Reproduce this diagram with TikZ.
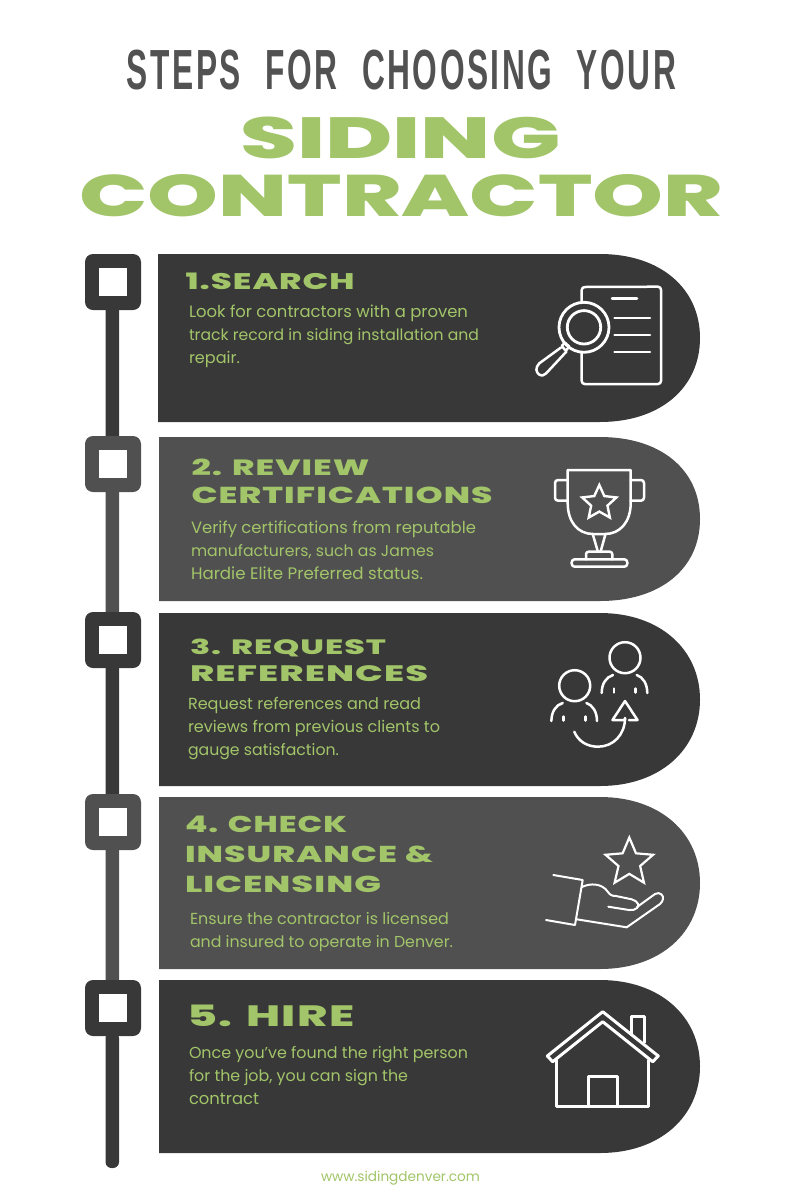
\documentclass[tikz,border=0pt]{standalone}
\usepackage{graphicx}
\usepackage{fontspec}
\usetikzlibrary{shapes.geometric}
\setmainfont{Poppins}
\newfontfamily\titlef[LetterSpace=8]{Liberation Sans Bold}
\newfontfamily\widef{Poppins ExtraBold}
\newfontfamily\headf[LetterSpace=3]{Poppins ExtraBold}
\newfontfamily\bodyf{Poppins}
\definecolor{darkp}{HTML}{383838}
\definecolor{lightp}{HTML}{505050}
\definecolor{leaf}{HTML}{A2C569}
\definecolor{titlegray}{HTML}{525252}
\newcommand{\fitwh}[3]{\resizebox{#1pt}{#2pt}{#3}}
\newcommand{\fitw}[2]{\resizebox{#1pt}{!}{#2}}
\newcommand{\wgap}{\hspace{.42em}}
\tikzset{
  x=1pt,y=-1pt,
  txt/.style={inner sep=0,outer sep=0,text=leaf},
  headtxt/.style={txt,align=left,anchor=base west,font=\headf\fontsize{16}{28}\selectfont},
  bodytxt/.style={txt,align=left,anchor=base west,font=\bodyf\fontsize{16}{22.9}\selectfont},
  icon/.style={draw=white,line width=2.5pt,line join=round,line cap=round},
}
\newcommand{\panelshape}[4]{%
  \fill[#4] (#1,#2) -- (600,#2)
     .. controls (660,#2) and (700,{(#2+#3)/2-50}) .. (700,{(#2+#3)/2})
     .. controls (700,{(#2+#3)/2+50}) and (660,#3) .. (600,#3) -- (#1,#3) -- cycle;}
\newcommand{\marker}[2]{%
  \fill[#2,rounded corners=8pt] (85,#1) rectangle (141,{#1+56});
  \fill[white] (98.5,{#1+14}) rectangle (127,{#1+42});}
\begin{document}
\begin{tikzpicture}
\useasboundingbox (0,0) rectangle (800,1200);
\fill[white] (0,0) rectangle (800,1200);
% Title
\node[inner sep=0,anchor=south west,text=titlegray] (title1) at (126.7,90.5) {\fitwh{549}{39.5}{\titlef STEPS\wgap{} FOR\wgap{} CHOOSING\wgap{} YOUR}};
\node[inner sep=0,anchor=south west,text=leaf] (title2) at (240,159.5) {\fitwh{320}{41.5}{\widef SIDING}};
\node[inner sep=0,anchor=south west,text=leaf] (title3) at (79.5,217) {\fitwh{643}{42}{\widef CONTRACTOR}};
% Panels
\panelshape{158}{254}{422}{darkp}
\panelshape{159}{437}{601}{lightp}
\panelshape{159}{613}{786}{darkp}
\panelshape{159}{797}{969}{lightp}
\panelshape{159}{980}{1153}{darkp}
% Timeline
\fill[darkp,rounded corners=3pt] (105.5,306) rectangle (119,440);
\fill[lightp,rounded corners=3pt] (105.5,488) rectangle (119,616);
\fill[darkp,rounded corners=3pt] (105.5,664) rectangle (119,798);
\fill[lightp,rounded corners=3pt] (105.5,846) rectangle (119,984);
\fill[darkp,rounded corners=6pt] (105.5,1032) rectangle (119,1168);
\marker{254}{darkp}
\marker{436}{lightp}
\marker{612}{darkp}
\marker{794}{lightp}
\marker{980}{darkp}
% Headings
\node[headtxt] (h1) at (185.5,289.5) {\fitwh{169}{16.5}{1.SEARCH}};
\node[headtxt] (h2) at (191.5,503) {\fitwh{178}{16.5}{2. REVIEW}\\\fitwh{301}{16.5}{CERTIFICATIONS}};
\node[headtxt,font=\headf\fontsize{16}{27}\selectfont] (h3) at (190,681) {\fitwh{196}{15.5}{3. REQUEST}\\\fitwh{238}{16}{REFERENCES}};
\node[headtxt,font=\headf\fontsize{16}{30}\selectfont] (h4) at (185,892) {\fitwh{162}{16.5}{4. CHECK}\\\fitwh{248}{16.5}{INSURANCE \&}\\\fitwh{196}{16.5}{LICENSING}};
\node[headtxt] (h5) at (187.5,1026) {\fitwh{167}{21.5}{5. HIRE}};
% Body
\node[bodytxt] (b1) at (189,363) {\fitw{279}{Look for contractors with a proven}\\\fitw{290}{track record in siding installation and}\\\fitw{51}{repair.}};
\node[bodytxt] (b2) at (191,579) {\fitw{285}{Verify certifications from reputable}\\\fitw{243}{manufacturers, such as James}\\\fitw{232}{Hardie Elite Preferred status.}};
\node[bodytxt] (b3) at (188,755) {\fitw{233}{Request references and read}\\\fitw{252}{reviews from previous clients to}\\\fitw{151}{gauge satisfaction.}};
\node[bodytxt] (b4) at (190,947) {\fitw{259}{Ensure the contractor is licensed}\\\fitw{263}{and insured to operate in Denver.}};
\node[bodytxt] (b5) at (189,1104) {\fitw{279}{Once you’ve found the right person}\\\fitw{219}{for the job, you can sign the}\\\fitw{70}{contract}};
\node[txt,anchor=base west] (foot) at (321,1181) {\fitw{159}{\bodyf www.sidingdenver.com}};
% Icon 1: magnifier on document
\draw[icon] (581.7,303) -- (581.7,290) arc[start angle=180,end angle=270,radius=3] -- (658,286.7) arc[start angle=-90,end angle=0,radius=3] -- (661,381) arc[start angle=0,end angle=90,radius=3] -- (584.7,384) arc[start angle=90,end angle=180,radius=3] -- (581.7,353);
\draw[icon] (612,298.5) -- (637,298.5) (614.5,318) -- (650,318) (614.5,335) -- (650,335) (614.5,352) -- (650,352);
\draw[icon,line width=2.8pt] (584,327.3) circle[radius=25];
\draw[icon,line width=2.8pt] (584,327.3) circle[radius=16.7];
\draw[icon] (561,347.5) -- (539.3,363.3) .. controls (535,368) and (536,372) .. (539,374.5) .. controls (542,376) and (544,375.5) .. (546,373.5) -- (566.5,351.5);
\draw[icon] (561.7,346) -- (565.7,350.7) (565,342.7) -- (569.3,346.7) (561.7,346) -- (565,342.7) (565.7,350.7) -- (569.3,346.7);
% Icon 2: trophy
\draw[icon] (567.7,470) -- (630.7,470) -- (630.7,503) .. controls (630.7,522) and (620,534) .. (605,534) -- (593,534) .. controls (578,534) and (567.7,522) .. (567.7,503) -- cycle;
\draw[icon,rounded corners=3pt] (567.7,480) -- (555,480) -- (555,500.7) -- (567.7,500.7);
\draw[icon,rounded corners=3pt] (630.7,480) -- (644,480) -- (644,500.7) -- (630.7,500.7);
\node[star,star points=5,star point ratio=2.1,draw=white,line width=2.4pt,minimum size=36pt,inner sep=0] (trophystar) at (599.3,503) {};
\draw[icon] (592.7,534) -- (598,552) (605.5,534) -- (600.5,552);
\draw[icon,rounded corners=2.5pt] (586,559.3) -- (586,551.7) -- (612.3,551.7) -- (612.3,559.3);
\draw[icon,rounded corners=3pt] (571.7,559.3) rectangle (627.3,566.7);
% Icon 3: people
\draw[icon] (625,657.7) circle[radius=15.5];
\draw[icon] (601.7,693) .. controls (601.7,684) and (606,677) .. (613,675);
\draw[icon] (647.3,693) .. controls (647.3,684) and (643,677) .. (636.7,675);
\draw[icon] (614,688.5) -- (614,692.5) (635.7,688.5) -- (635.7,692.5);
\draw[icon] (574.7,685.7) circle[radius=15.5];
\draw[icon] (551.4,721) .. controls (551.4,712) and (555.7,705) .. (562.7,703);
\draw[icon] (597,721) .. controls (597,712) and (592.7,705) .. (586.4,703);
\draw[icon] (563.7,716.5) -- (563.7,720.5) (585.4,716.5) -- (585.4,720.5);
\draw[icon] (574.3,731.7) .. controls (578,741) and (587,746.7) .. (598,746.7) .. controls (613,746.7) and (625,735) .. (625,718) ;
\draw[icon] (625,718) -- (625,720) -- (612.5,720) -- (625,701) -- (637.5,720) -- (629,720);
% Icon 4: hand and star
\node[star,star points=5,star point ratio=2.2,draw=white,line width=2.2pt,minimum size=50pt,inner sep=0] (handstar) at (629.3,862.5) {};
\draw[icon,line width=2pt] (553.3,875) -- (582.7,880) -- (575,925) -- (546,920);
\draw[icon,line width=2pt] (582,887) .. controls (590,883) and (602,883) .. (608,892) .. controls (610,895) and (612,896) .. (616,896) -- (631.7,899.3) .. controls (638,901) and (640,906) .. (637,908) .. controls (635,910) and (632,910.5) .. (629,910) -- (608.3,906.7);
\draw[icon,line width=2pt] (637,907) -- (655,894) .. controls (660,891) and (664,896) .. (663,899) .. controls (662.5,901) and (662,902) .. (660,904) -- (626.7,927.3) -- (576.7,919.3);
% Icon 5: house
\draw[icon,line width=3pt] (602.7,1011.7) -- (547.3,1056) -- (552.7,1061.7) -- (602.7,1021.7) -- (652.7,1061.7) -- (658.3,1056) -- cycle;
\draw[icon,line width=3pt,line cap=butt] (631.7,1034) -- (631.7,1016.7) -- (644,1016.7) -- (644,1043);
\draw[icon,line width=3pt] (556.7,1060) -- (556.7,1106.7) -- (648.3,1106.7) -- (648.3,1060);
\draw[icon,line width=3pt] (588.3,1106.7) -- (588.3,1076) -- (617.3,1076) -- (617.3,1106.7);
\end{tikzpicture}
\end{document}
